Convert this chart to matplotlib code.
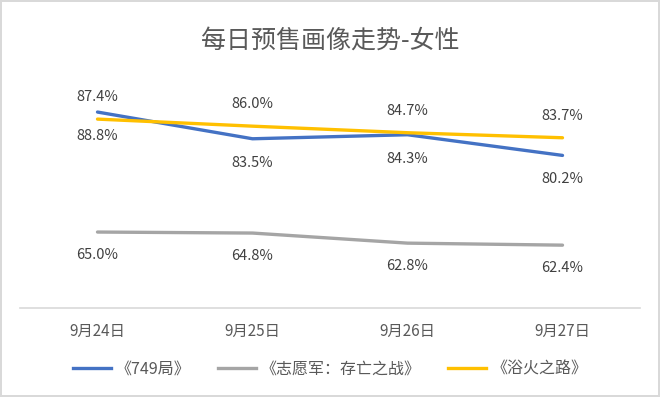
import matplotlib.pyplot as plt
from matplotlib.lines import Line2D

plt.rcParams['font.family'] = ['Noto Sans CJK SC', 'DejaVu Sans']

dates = ['9月24日', '9月25日', '9月26日', '9月27日']
s749 = [88.8, 83.5, 84.3, 80.2]
szyj = [65.0, 64.8, 62.8, 62.4]
syhz = [87.4, 86.0, 84.7, 83.7]
names = ['《749局》', '《志愿军：存亡之战》', '《浴火之路》']
colors = ['#4472C4', '#A5A5A5', '#FFC000']
# label placement per series: pixel offset from the point
offsets = [-24, -23, 22]

fig = plt.figure(figsize=(6.6, 3.97), dpi=100)
fig.patch.set_edgecolor('#d9d9d9')
fig.patch.set_linewidth(1.5)
ax = fig.add_axes([0.0303, 0.225, 0.9394, 0.635])

x = list(range(len(dates)))
for vals, c, off in zip([s749, szyj, syhz], colors, offsets):
    ax.plot(x, vals, color=c, lw=2.4, solid_capstyle='round')
    for xi, v in zip(x, vals):
        ax.annotate(f'{v:.1f}%', (xi, v), xytext=(0, off), textcoords='offset pixels',
                    ha='center', va='center', fontsize=10.5, color='#404040')

ax.set_xlim(-0.5, len(dates) - 0.5)
ax.set_ylim(50, 100)
ax.set_yticks([])
ax.set_xticks(x)
ax.set_xticklabels(dates, fontsize=11, color='#595959')
ax.tick_params(axis='x', length=0, pad=11)
for s in ['top', 'left', 'right']:
    ax.spines[s].set_visible(False)
ax.spines['bottom'].set_color('#d9d9d9')
ax.spines['bottom'].set_linewidth(1.2)

fig.suptitle('每日预售画像走势-女性', y=0.93, fontsize=18, color='#595959')

handles = [Line2D([], [], color=c, lw=2.4) for c in colors]
fig.legend(handles, names, loc='center', bbox_to_anchor=(0.5, 0.07), ncol=3,
           frameon=False, fontsize=11.5, labelcolor='#595959',
           handlelength=2.4, handletextpad=0.3, columnspacing=1.7)

fig.savefig('out.png', dpi=100)
